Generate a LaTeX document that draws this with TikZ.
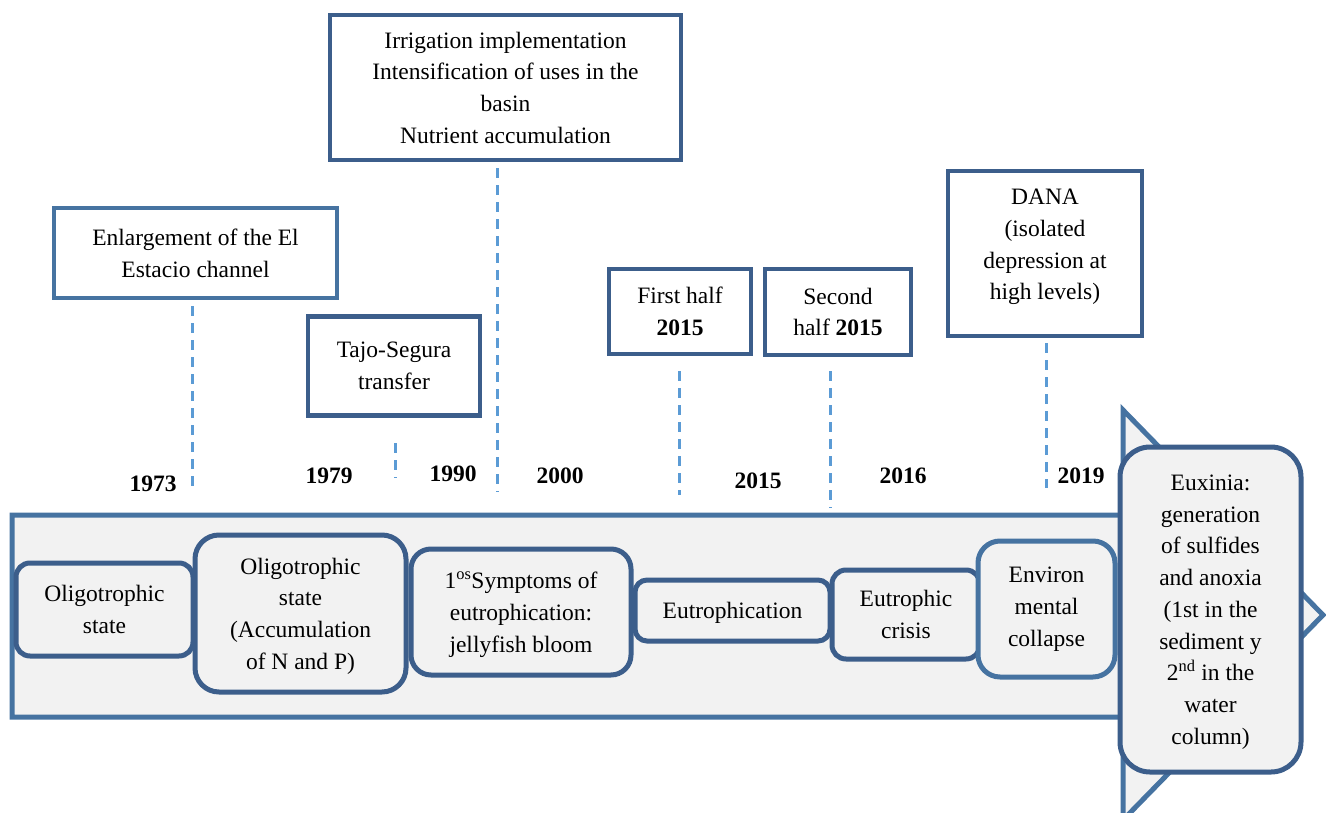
\documentclass[tikz,border=0pt]{standalone}
\usepackage{fontspec}
\setmainfont{Liberation Serif}
\definecolor{boxblue}{HTML}{3C5E8B}
\definecolor{lightblue}{HTML}{4673A1}
\definecolor{tickblue}{HTML}{5B9BD5}
\definecolor{stagegray}{HTML}{F2F2F2}
\newcommand{\txtfont}{\fontsize{23.5}{31.75}\selectfont}
\begin{document}
\begin{tikzpicture}[x=1pt,y=-1pt,
  event/.style={draw=boxblue, line width=4.5pt, fill=white, align=center, inner sep=0pt, font=\txtfont},
  stage/.style={draw=boxblue, line width=5pt, fill=stagegray, rounded corners=14pt, align=center, inner sep=0pt, text depth=0pt, font=\txtfont},
  tick/.style={draw=tickblue, line width=3pt, dash pattern=on 10pt off 7pt},
  year/.style={font=\txtfont\bfseries, inner sep=0pt}]
\useasboundingbox (0,0) rectangle (1326,812);
\clip (0,0) rectangle (1326,812);

% timeline arrow
\draw[draw=lightblue, fill=stagegray, line width=5pt, line join=miter]
  (12,515) -- (1123,515) -- (1123,410) -- (1323,615) -- (1123,820) -- (1123,717) -- (12,717) -- cycle;

% events above the timeline
\node[event, draw=lightblue, minimum width=283pt, minimum height=90pt] (enl) at (195.5,253) {Enlargement of the El\\Estacio channel};
\node[event, minimum width=172pt, minimum height=99pt] (tajo) at (394,366) {Tajo-Segura\\transfer};
\node[event, text depth=0pt, minimum width=351pt, minimum height=145pt] (irr) at (505.5,87.5) {Irrigation implementation\\Intensification of uses in the\\basin\\Nutrient accumulation};
\node[event, minimum width=142pt, minimum height=85pt] (first) at (680,311.5) {First half\\\textbf{2015}};
\node[event, minimum width=146pt, minimum height=86pt] (second) at (838,312) {Second\\half \textbf{2015}};
\node[event, text depth=18pt, minimum width=194pt, minimum height=165pt] (dana) at (1045,253.5) {DANA\\(isolated\\depression at\\high levels)};

% dashed markers
\coordinate (t1a) at (192,306);  \coordinate (t1b) at (192,492);
\coordinate (t2a) at (395,443);  \coordinate (t2b) at (395,478);
\coordinate (t3a) at (497,168);  \coordinate (t3b) at (497,492);
\coordinate (t4a) at (679,371);  \coordinate (t4b) at (679,495);
\coordinate (t5a) at (830,371);  \coordinate (t5b) at (830,508);
\coordinate (t6a) at (1046,343); \coordinate (t6b) at (1046,488);
\draw[tick] (t1a) -- (t1b);
\draw[tick] (t2a) -- (t2b);
\draw[tick] (t3a) -- (t3b);
\draw[tick] (t4a) -- (t4b);
\draw[tick] (t5a) -- (t5b);
\draw[tick] (t6a) -- (t6b);

% years
\node[year] (y1973) at (153,484) {1973};
\node[year] (y1979) at (329,476) {1979};
\node[year] (y1990) at (453,474) {1990};
\node[year] (y2000) at (560,476) {2000};
\node[year] (y2015) at (758,481) {2015};
\node[year] (y2016) at (903,476) {2016};
\node[year] (y2019) at (1081,476) {2019};

% stages along the timeline
\node[stage, minimum width=177pt, minimum height=93pt] (s1) at (104.5,609.5) {Oligotrophic\\state};
\node[stage, rounded corners=24pt, minimum width=211pt, minimum height=157pt] (s2) at (300.5,613.5) {Oligotrophic\\state\\(Accumulation\\of N and P)};
\node[stage, rounded corners=20pt, minimum width=220pt, minimum height=126pt] (s3) at (521,612) {1\textsuperscript{os}Symptoms of\\eutrophication:\\jellyfish bloom};
\node[stage, rounded corners=12pt, minimum width=195pt, minimum height=61pt] (s4) at (732.5,610.5) {Eutrophication};
\node[stage, rounded corners=14pt, minimum width=148pt, minimum height=89pt] (s5) at (906,614.5) {Eutrophic\\crisis};
\node[stage, draw=lightblue, text depth=5pt, rounded corners=22pt, minimum width=137pt, minimum height=136pt] (s6) at (1046.5,609) {Environ\\mental\\collapse};
\node[stage, rounded corners=30pt, minimum width=181pt, minimum height=325pt] (s7) at (1210.5,609.5) {Euxinia:\\generation\\of sulfides\\and anoxia\\(1st in the\\sediment y\\2\textsuperscript{nd} in the\\water\\column)};
\end{tikzpicture}
\end{document}
